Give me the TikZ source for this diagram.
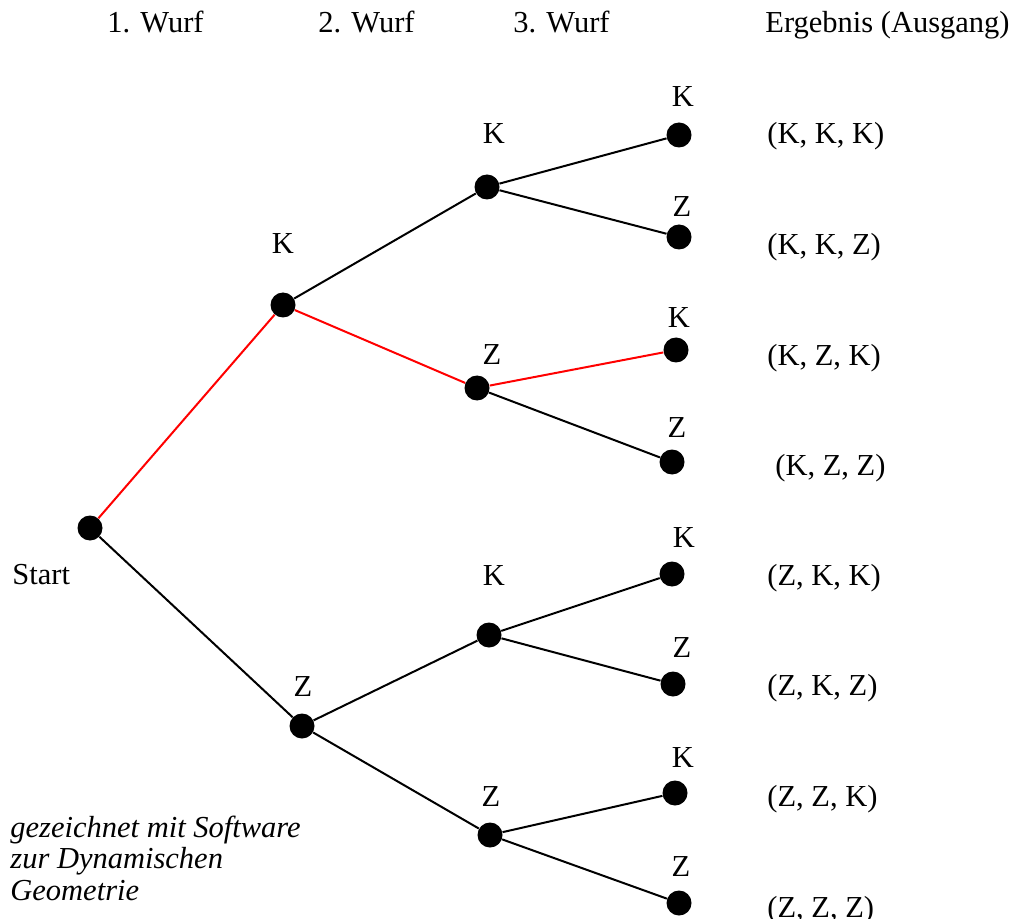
\documentclass[tikz,border=0pt]{standalone}
\usepackage{fontspec}
\setmainfont{Liberation Serif}
\begin{document}
\begin{tikzpicture}[x=0.5pt,y=-0.5pt,
  txt/.style={inner sep=0pt,font=\fontsize{15.25pt}{16pt}\selectfont},
  itxt/.style={txt,anchor=base west,font=\fontsize{15.25pt}{16pt}\selectfont\itshape},
  dot/.style={circle,fill=black,inner sep=0pt,minimum size=12.5pt},
  edge/.style={line width=1pt,black},
  path/.style={line width=1pt,red}]
\useasboundingbox (0,0) rectangle (1027,919);

% column headings
\node[txt,anchor=base west] (h1) at (107,33) {1. Wurf};
\node[txt,anchor=base west] (h2) at (318,33) {2. Wurf};
\node[txt,anchor=base west] (h3) at (513,33) {3. Wurf};
\node[txt,anchor=base west] (h4) at (765,33) {Ergebnis (Ausgang)};

% tree nodes
\node[dot] (s)   at (90,528) {};
\node[dot] (k)   at (283,305) {};
\node[dot] (z)   at (302,726) {};
\node[dot] (kk)  at (487,187) {};
\node[dot] (kz)  at (477,388) {};
\node[dot] (zk)  at (489,635) {};
\node[dot] (zz)  at (490,835) {};
\node[dot] (kkk) at (679,135) {};
\node[dot] (kkz) at (679,237) {};
\node[dot] (kzk) at (676,350) {};
\node[dot] (kzz) at (672,462) {};
\node[dot] (zkk) at (672,574) {};
\node[dot] (zkz) at (673,684) {};
\node[dot] (zzk) at (675,793) {};
\node[dot] (zzz) at (679,903) {};

% branches
\draw[path] (s) -- (k);
\draw[path] (k) -- (kz);
\draw[path] (kz) -- (kzk);
\draw[edge] (s) -- (z);
\draw[edge] (k) -- (kk);
\draw[edge] (z) -- (zk);
\draw[edge] (z) -- (zz);
\draw[edge] (kk) -- (kkk);
\draw[edge] (kk) -- (kkz);
\draw[edge] (kz) -- (kzz);
\draw[edge] (zk) -- (zkk);
\draw[edge] (zk) -- (zkz);
\draw[edge] (zz) -- (zzk);
\draw[edge] (zz) -- (zzz);

% node labels
\node[txt] (lk)   at (283,244) {K};
\node[txt] (lz)   at (303,687) {Z};
\node[txt] (lkk)  at (494,134) {K};
\node[txt] (lkz)  at (492,355) {Z};
\node[txt] (lzk)  at (494,576) {K};
\node[txt] (lzz)  at (491,797) {Z};
\node[txt] (lkkk) at (683,97) {K};
\node[txt] (lkkz) at (682,207) {Z};
\node[txt] (lkzk) at (679,318) {K};
\node[txt] (lkzz) at (677,428) {Z};
\node[txt] (lzkk) at (684,538) {K};
\node[txt] (lzkz) at (682,648) {Z};
\node[txt] (lzzk) at (683,758) {K};
\node[txt] (lzzz) at (681,867) {Z};

% outcomes
\node[txt,anchor=base west] (r1) at (767,144) {(K, K, K)};
\node[txt,anchor=base west] (r2) at (767,255) {(K, K, Z)};
\node[txt,anchor=base west] (r3) at (767,365) {(K, Z, K)};
\node[txt,anchor=base west] (r4) at (775,475) {(K, Z, Z)};
\node[txt,anchor=base west] (r5) at (767,585) {(Z, K, K)};
\node[txt,anchor=base west] (r6) at (767,695) {(Z, K, Z)};
\node[txt,anchor=base west] (r7) at (767,806) {(Z, Z, K)};
\node[txt,anchor=base west] (r8) at (767,917) {(Z, Z, Z)};

\node[txt,anchor=base west] (start) at (12,584) {Start};

% credit line
\node[itxt] (c1) at (10,837) {gezeichnet mit Software};
\node[itxt] (c2) at (10,868) {zur Dynamischen};
\node[itxt] (c3) at (10,900) {Geometrie};
\end{tikzpicture}
\end{document}
